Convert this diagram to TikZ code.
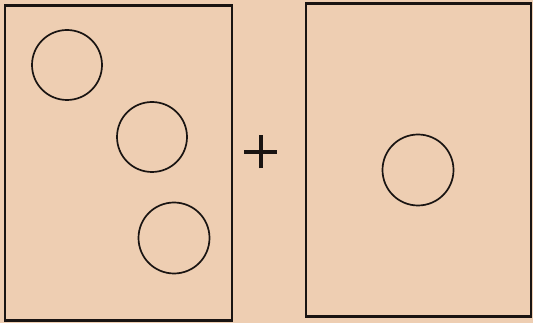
\documentclass[tikz,border=0pt]{standalone}
\usepackage{tikz}
\definecolor{paper}{RGB}{238,206,178}
\definecolor{ink}{RGB}{25,20,18}
\begin{document}
\begin{tikzpicture}[x=1pt,y=-1pt]
\fill[paper] (0,0) rectangle (533,323);
\node[draw=ink, rectangle, line width=2.3pt, inner sep=0pt, minimum width=227pt, minimum height=315pt] (left) at (118.5,163) {};
\node[draw=ink, rectangle, line width=2.3pt, inner sep=0pt, minimum width=225pt, minimum height=313pt] (right) at (418.5,160) {};
\node[draw=ink, circle, line width=1.7pt, inner sep=0pt, minimum size=70pt] (ball1) at (67,65) {};
\node[draw=ink, circle, line width=1.7pt, inner sep=0pt, minimum size=70pt] (ball2) at (152,137) {};
\node[draw=ink, circle, line width=1.7pt, inner sep=0pt, minimum size=71pt] (ball3) at (174,238) {};
\node[draw=ink, circle, line width=1.7pt, inner sep=0pt, minimum size=71pt] (ball4) at (418,170) {};
\coordinate (plus) at (260.5,152);
\draw[ink, line width=4pt] ([xshift=-16.5pt]plus) -- ([xshift=16.5pt]plus);
\draw[ink, line width=4pt] ([yshift=-16.5pt]plus) -- ([yshift=16.5pt]plus);
\end{tikzpicture}
\end{document}
